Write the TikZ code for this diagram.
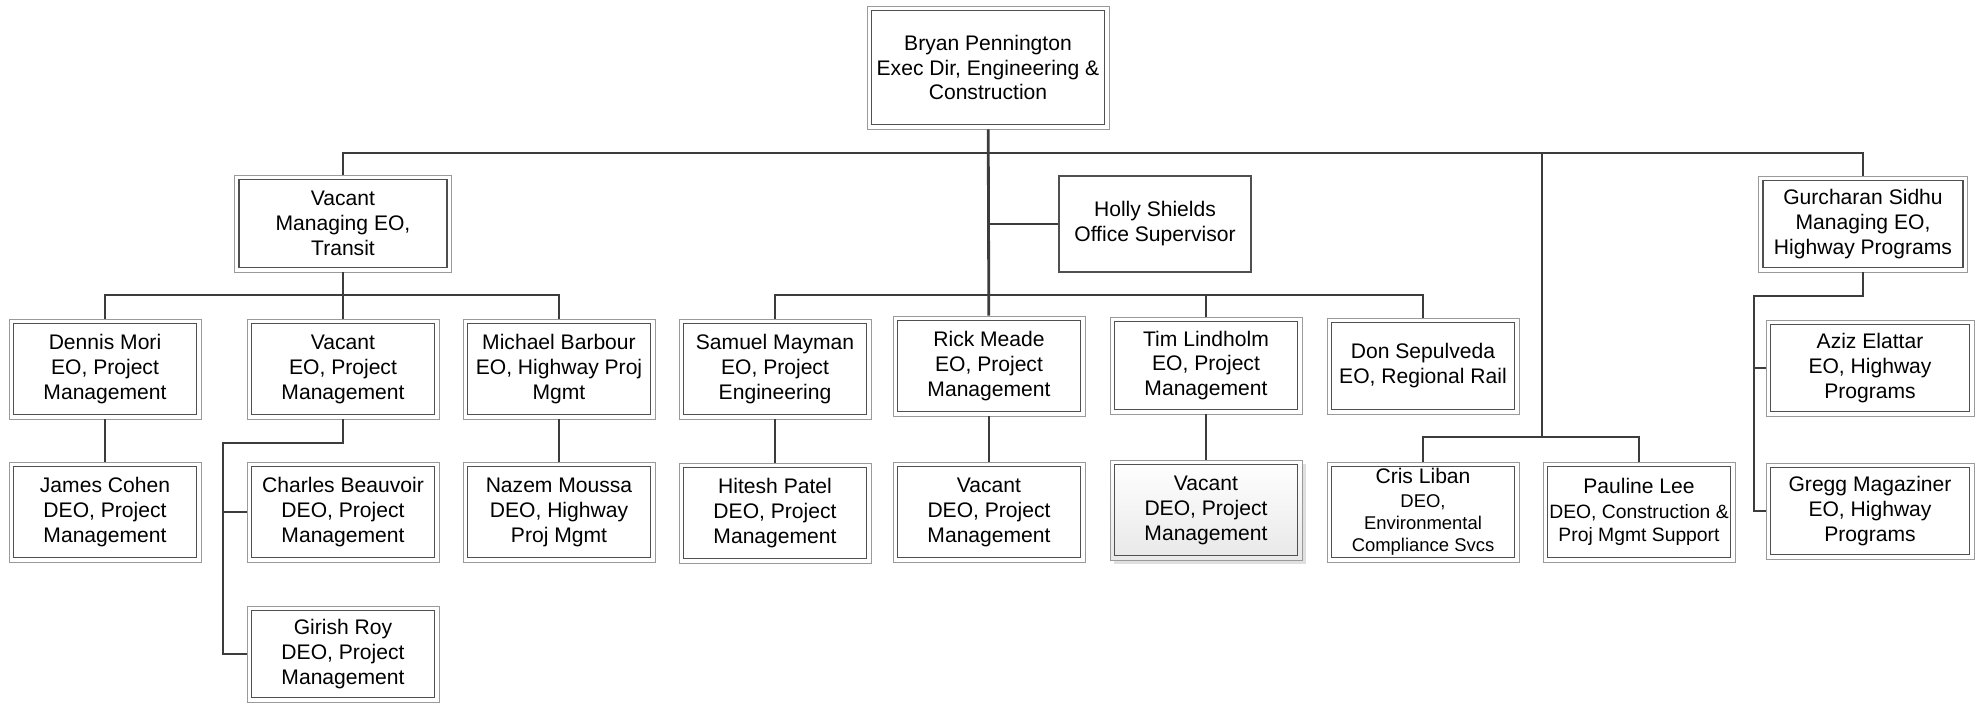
\documentclass[tikz,border=0pt]{standalone}
\usepackage{fontspec}
\setmainfont{Liberation Sans}
\usetikzlibrary{shadows}
\definecolor{boxOuter}{HTML}{9A9A9A}
\definecolor{boxInner}{HTML}{505050}
\definecolor{linkGray}{HTML}{3C3C3C}
\newcommand{\crisSize}{\fontsize{10.5}{12.6}\selectfont}
\newcommand{\paulSize}{\fontsize{11}{13.2}\selectfont}
\tikzstyle{posBox}=[shape = rectangle, draw = boxOuter, line width = 0.5pt, fill = white, minimum width = 3.84cm, minimum height = 2cm, inner sep = 0pt, align = center, font = \fontsize{12}{14.2}\selectfont, path picture = {\draw[boxInner, line width = 0.65pt] ([shift = {(0.09cm,-0.09cm)}]path picture bounding box.north west) rectangle ([shift = {(-0.09cm,0.09cm)}]path picture bounding box.south east);}]

\begin{document}
\begin{tikzpicture}[x = 0.02cm, y = -0.02cm]
\tikzstyle{plainBox}=[shape = rectangle, draw = boxInner, line width = 0.65pt, fill = white, minimum width = 3.84cm, minimum height = 1.92cm, inner sep = 0pt, align = center, font = \fontsize{12}{14.2}\selectfont]
\tikzstyle{shadedBox}=[posBox, top color = white, bottom color = gray!18, drop shadow = {shadow xshift = 2pt, shadow yshift = -2pt, opacity = 0.25}]
\tikzstyle{link}=[draw = linkGray, line width = 1.6pt]
\useasboundingbox (0,0) rectangle (1981,703);
\node[posBox, minimum width = 4.84cm, minimum height = 2.46cm] (v0) at (988,67.5) {Bryan Pennington\\Exec Dir, Engineering \&\\Construction};
\node[posBox, minimum width = 4.34cm, minimum height = 1.94cm] (v1) at (343,223.5) {Vacant\\Managing EO,\\Transit};
\node[plainBox] (v2) at (1155,224) {Holly Shields\\Office Supervisor};
\node[posBox, minimum width = 4.18cm, minimum height = 1.92cm] (v3) at (1863,224) {Gurcharan Sidhu\\Managing EO,\\Highway Programs};
\node[posBox] (v4) at (105,369) {Dennis Mori\\EO, Project\\Management};
\node[posBox] (v5) at (343,369) {Vacant\\EO, Project\\Management};
\node[posBox] (v6) at (559,369) {Michael Barbour\\EO, Highway Proj\\Mgmt};
\node[posBox] (v7) at (105,512) {James Cohen\\DEO, Project\\Management};
\node[posBox] (v8) at (343,512) {Charles Beauvoir\\DEO, Project\\Management};
\node[posBox, minimum height = 1.92cm] (v9) at (343,654) {Girish Roy\\DEO, Project\\Management};
\node[posBox] (v10) at (559,512) {Nazem Moussa\\DEO, Highway\\Proj Mgmt};
\node[posBox] (v11) at (775,369) {Samuel Mayman\\EO, Project\\Engineering};
\node[posBox] (v12) at (989,366) {Rick Meade\\EO, Project\\Management};
\node[posBox, minimum height = 1.94cm] (v13) at (1206,365.5) {Tim Lindholm\\EO, Project\\Management};
\node[posBox, minimum height = 1.92cm] (v14) at (1423,366) {Don Sepulveda\\EO, Regional Rail};
\node[posBox] (v15) at (775,513) {Hitesh Patel\\DEO, Project\\Management};
\node[posBox] (v16) at (989,512) {Vacant\\DEO, Project\\Management};
\node[shadedBox] (v17) at (1206,510) {Vacant\\DEO, Project\\Management};
\node[posBox] (v18) at (1423,512) {Cris Liban\\[-1pt]\crisSize DEO,\\[-1.6pt]\crisSize Environmental\\[-1.6pt]\crisSize Compliance Svcs};
\node[posBox] (v19) at (1639,512) {Pauline Lee\\\paulSize DEO, Construction \&\\[-0.8pt]\paulSize Proj Mgmt Support};
\node[posBox, minimum width = 4.16cm, minimum height = 1.92cm] (v20) at (1870,368) {Aziz Elattar\\EO, Highway\\Programs};
\node[posBox, minimum width = 4.16cm, minimum height = 1.92cm] (v21) at (1870,511) {Gregg Magaziner\\EO, Highway\\Programs};
\coordinate (b0) at (988,153);
\coordinate (b1) at (1542,153);
\coordinate (b2) at (1542,437);
\coordinate (b3) at (988,295);
\coordinate (b4) at (343,295);
\coordinate (b5) at (223,443);
\coordinate (b6) at (1754,296);
\draw[link] (v1.north) |- (b0) -| (v3.north);
\draw[link] (v0) -- (v12);
\draw[link] (v0 |- v2.west) -- (v2.west);
\draw[link] (b1) -- (b2);
\draw[link] (v18.north) |- (b2) -| (v19.north);
\draw[link] (v11.north) |- (b3) -| (v14.north);
\draw[link] (v13.north) -- (v13.north |- b3);
\draw[link] (v1) -- (v5);
\draw[link] (v4.north) |- (b4) -| (v6.north);
\draw[link] (v4) -- (v7);
\draw[link] (v6) -- (v10);
\draw[link] (v5.south) |- (b5) |- (v9.west);
\draw[link] (b5 |- v8.west) -- (v8.west);
\draw[link] (v11) -- (v15);
\draw[link] (v12) -- (v16);
\draw[link] (v13) -- (v17);
\draw[link] (v3.south) |- (b6) |- (v21.west);
\draw[link] (b6 |- v20.west) -- (v20.west);
\end{tikzpicture}
\end{document}
